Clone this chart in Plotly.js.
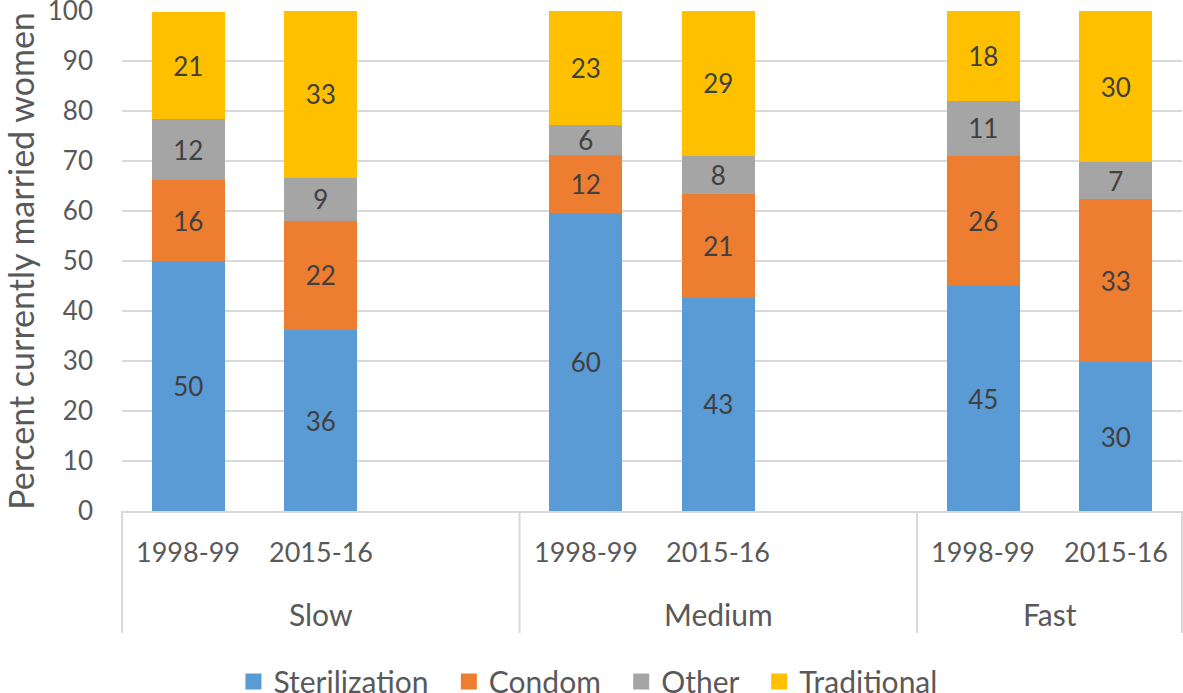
<!DOCTYPE html>
<html>
<head>
<meta charset="utf-8">
<script src="https://cdn.plot.ly/plotly-3.0.1.min.js"></script>
<style>html,body{margin:0;padding:0;background:#fff;}#chart{width:1183px;height:693px;}</style>
</head>
<body>
<div id="chart"></div>
<script>
// Category levels (blank slots keep the original spacing)
const groups  = ["Slow","Slow","Slow","Medium","Medium","Medium","Fast","Fast"];
const periods = ["1998-99","2015-16"," ","1998-99","2015-16","  ","1998-99","2015-16"];
const groupNames = ["Slow","Medium","Fast"];

// Series values (percent of currently married women)
const sterilization = [50.0, 36.2, null, 59.6, 42.7, null, 45.0, 29.8];
const condom        = [16.2, 21.9, null, 11.6, 20.8, null, 26.1, 32.6];
const other         = [12.2,  8.6, null,  6.0,  7.6, null, 11.0,  7.4];
const traditional   = [21.4, 33.3, null, 22.8, 28.9, null, 17.9, 30.2];

const seriesNames  = ["Sterilization","Condom","Other","Traditional"];
const seriesValues = [sterilization, condom, other, traditional];
const seriesColors = ["#5B9BD5","#ED7D31","#A5A5A5","#FFC000"];

const FONT = "Lato, 'Open Sans', sans-serif";
const TXT = "#595959";
const LINE = "#D9D9D9";

const traces = seriesValues.map((vals, i) => ({
  type: "bar",
  x: [groups, periods],
  y: vals,
  name: seriesNames[i],
  marker: {color: seriesColors[i], line: {width: 0}},
  texttemplate: "%{y:.0f}",
  textposition: "inside",
  insidetextanchor: "middle",
  textangle: 0,
  constraintext: "none",
  textfont: {family: FONT, size: 26, color: "#404040"},
  hoverinfo: "skip",
  showlegend: false
}));

// legend entries (square swatches), on a hidden overlay axis
const PAD = "\u00A0\u00A0";
seriesNames.forEach((nm, i) => {
  traces.push({
    type: "scatter", mode: "markers",
    x: [5], y: [5], xaxis: "x2", yaxis: "y2",
    name: i < seriesNames.length - 1 ? nm + PAD : nm,
    marker: {symbol: "square", size: 17, color: seriesColors[i]},
    hoverinfo: "skip", showlegend: true
  });
});

// category-axis labels and group dividers (positions from slot indices)
const n = periods.length;
const annotations = [];
const shapes = [];
periods.forEach((p, i) => {
  if (p.trim() === "") return;
  annotations.push({
    xref: "paper", yref: "paper", x: (i + 0.5) / n, y: -0.08,
    xanchor: "center", yanchor: "middle", showarrow: false,
    text: p, font: {family: FONT, size: 27, color: TXT}
  });
});
const bounds = [0];
groupNames.forEach(g => {
  const idx = groups.map((v, i) => v === g ? i : -1).filter(i => i >= 0);
  const first = idx[0], last = idx[idx.length - 1];
  annotations.push({
    xref: "paper", yref: "paper", x: ((first + last) / 2 + 0.5) / n, y: -0.206,
    xanchor: "center", yanchor: "middle", showarrow: false,
    text: g, font: {family: FONT, size: 30, color: TXT}
  });
  bounds.push((last + 1) / n);
});
bounds.forEach(b => {
  shapes.push({
    type: "line", xref: "paper", yref: "paper",
    x0: b, x1: b, y0: 0, y1: -0.244,
    line: {color: LINE, width: 2}
  });
});

const layout = {
  width: 1183, height: 693,
  margin: {l: 122, r: 1, t: 11, b: 182},
  paper_bgcolor: "#ffffff", plot_bgcolor: "#ffffff",
  font: {family: FONT, size: 26, color: TXT},
  barmode: "stack",
  bargap: 0.45,
  showlegend: true,
  legend: {
    orientation: "h", xref: "container", yref: "container",
    x: 0.497, xanchor: "center", y: 0.0165, yanchor: "middle",
    font: {family: FONT, size: 30, color: TXT},
    traceorder: "normal", itemwidth: 30
  },
  xaxis: {
    type: "multicategory",
    showline: true, linecolor: LINE, linewidth: 2,
    showdividers: false, showticklabels: false,
    ticks: "", showgrid: false, zeroline: false
  },
  yaxis: {
    range: [0, 100], dtick: 10, tick0: 0,
    showgrid: true, gridcolor: LINE, gridwidth: 2,
    zeroline: false, showline: false, ticks: "",
    ticklabelstandoff: 28, ticklabeloverflow: "allow",
    tickfont: {family: FONT, size: 26, color: TXT},
    title: {text: "Percent currently married women", font: {family: FONT, size: 34, color: TXT}, standoff: 18}
  },
  xaxis2: {overlaying: "x", visible: false, range: [0, 1]},
  yaxis2: {overlaying: "y", visible: false, range: [0, 1]},
  annotations: annotations,
  shapes: shapes
};

Plotly.newPlot("chart", traces, layout, {displayModeBar: false, staticPlot: true});
</script>
</body>
</html>
